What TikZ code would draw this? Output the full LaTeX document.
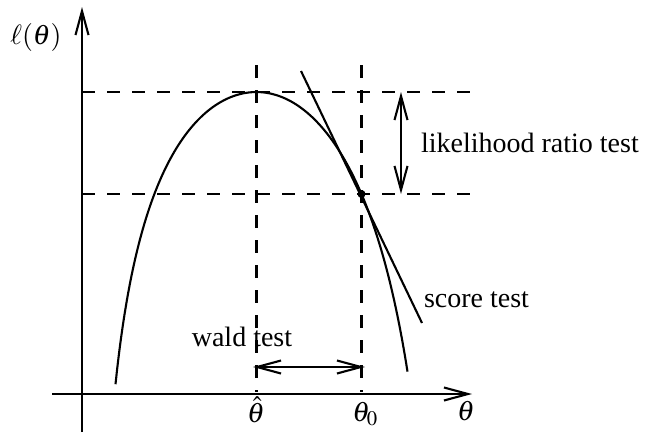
\documentclass[tikz,border=0pt]{standalone}
\usepackage{mathptmx}
\usepackage{fontspec}
\setmainfont{Liberation Serif}
\usetikzlibrary{arrows.meta}
\tikzset{
  barb/.style={-{Straight Barb[length=24pt,width=13pt]}},
  twobarb/.style={{Straight Barb[length=24pt,width=13pt]}-{Straight Barb[length=24pt,width=13pt]}},
  guide/.style={dash pattern=on 13pt off 12pt},
}
\begin{document}
\begin{tikzpicture}[x=1pt,y=-1pt,line width=2.1pt,font=\fontsize{28}{33}\selectfont]
\useasboundingbox (0,0) rectangle (646,432);
\coordinate (ybot) at (82,432); \coordinate (ytop) at (82,7);
\coordinate (xleft) at (52,394); \coordinate (xright) at (472,394);
\coordinate (peak) at (256.5,92); \coordinate (null) at (361.5,194);
\draw[barb] (ybot) -- (ytop);
\draw[barb] (xleft) -- (xright);
\node (ell) at (36,37) {$\ell(\theta)$};
\node (th) at (466,411) {$\theta$};
\node[inner sep=1pt] (thhat) at (256,410) {$\hat{\theta}$};
\node[inner sep=1pt] (thnull) at (365,414) {$\theta_0$};
\draw[guide] (82,92) -- (478,92); \draw[guide] (82,194) -- (478,194);
\draw[guide] (256.5,65) -- (256.5,392); \draw[guide] (361.5,65) -- (361.5,392);
\draw plot[domain=0:141,samples=80,smooth] ({256.5-\x},{92-195*ln(1-(\x/160)^2)});
\draw plot[domain=0:151,samples=80,smooth] ({256.5+\x},{92-280*ln(1-(\x/190)^2)});
\coordinate (tana) at (301,71); \coordinate (tanb) at (422,323);
\draw (tana) -- (tanb);
\fill (null) circle (4);
\coordinate (lra) at (401,92); \coordinate (lrb) at (401,194);
\draw[twobarb] (lra) -- (lrb);
\node[anchor=base west,inner sep=0] (lrt) at (420,152) {likelihood ratio test};
\node[anchor=base west,inner sep=0] (sct) at (423,307) {score test};
\coordinate (wa) at (253,367); \coordinate (wb) at (365,367);
\draw[twobarb] (wa) -- (wb);
\node[anchor=base,inner sep=0] (wt) at (242,346) {wald test};
\end{tikzpicture}
\end{document}
